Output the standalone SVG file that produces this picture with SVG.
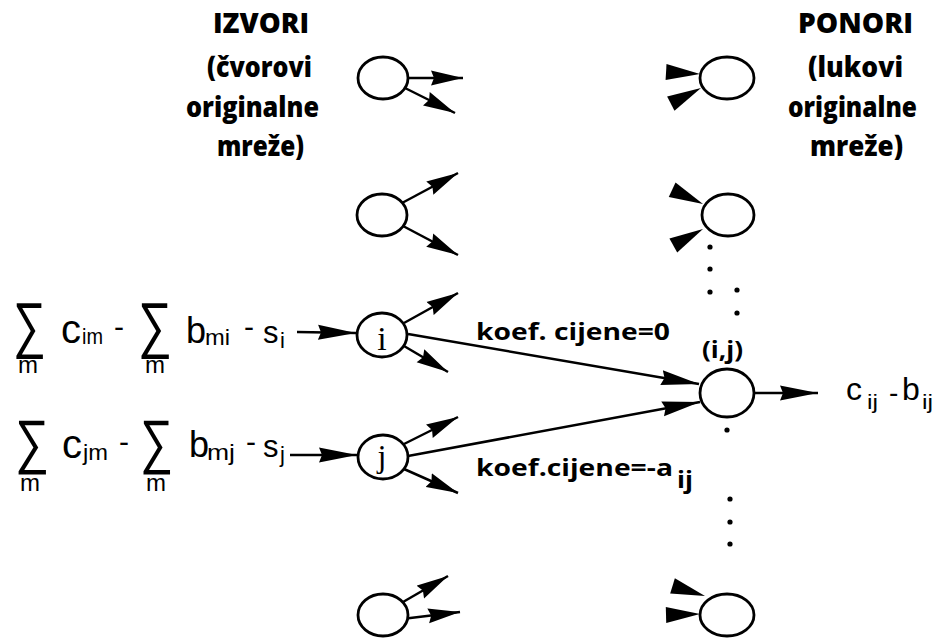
<svg xmlns="http://www.w3.org/2000/svg" xmlns:xlink="http://www.w3.org/1999/xlink" width="946" height="638" viewBox="0 0 946 638">
<style>
.nd{fill:#fff;stroke:#000;stroke-width:2.8}
.ln{stroke:#000;stroke-width:2.5;fill:none}
.hdr{font-family:"Open Sans","Noto Sans",sans-serif;font-weight:800;font-size:29px;fill:#000}
.lbl{font-family:"Open Sans","Noto Sans",sans-serif;font-weight:700;font-size:23px;fill:#000}
.f{font-family:"Liberation Sans",Arial,sans-serif;fill:#000}
.nl{font-family:"Liberation Serif","Times New Roman",serif;fill:#000;text-anchor:middle}
.dot{fill:#000}
</style>
<defs>
<marker id="a1" markerUnits="userSpaceOnUse" viewBox="0 0 32 16" refX="32" refY="8" markerWidth="32" markerHeight="16" orient="auto"><path d="M0,0.5 L32,8 L0,15.5 L3,8 Z" fill="#000"/></marker>
<marker id="a2" markerUnits="userSpaceOnUse" viewBox="0 0 38 16" refX="38" refY="8" markerWidth="38" markerHeight="16" orient="auto"><path d="M0,0.5 L38,8 L0,15.5 L3,8 Z" fill="#000"/></marker>
<path id="hd" d="M0,0 L-34,-8 L-34,8 Z" fill="#000"/>
</defs>

<g id="headers">
<text class="hdr" x="213" y="33" textLength="96" lengthAdjust="spacingAndGlyphs">IZVORI</text>
<text class="hdr" x="207" y="77" textLength="105" lengthAdjust="spacingAndGlyphs">(čvorovi</text>
<text class="hdr" x="186" y="117" textLength="133" lengthAdjust="spacingAndGlyphs">originalne</text>
<text class="hdr" x="217" y="156" textLength="87" lengthAdjust="spacingAndGlyphs">mreže)</text>
<text class="hdr" x="798" y="33" textLength="115" lengthAdjust="spacingAndGlyphs">PONORI</text>
<text class="hdr" x="808" y="77" textLength="95" lengthAdjust="spacingAndGlyphs">(lukovi</text>
<text class="hdr" x="788" y="117" textLength="129" lengthAdjust="spacingAndGlyphs">originalne</text>
<text class="hdr" x="810" y="156" textLength="93" lengthAdjust="spacingAndGlyphs">mreže)</text>
</g>

<g id="connectors">
<line class="ln" x1="408" y1="78" x2="463" y2="78" marker-end="url(#a1)"/>
<line class="ln" x1="405" y1="88" x2="455" y2="113" marker-end="url(#a1)"/>
<line class="ln" x1="402" y1="203" x2="458" y2="173" marker-end="url(#a1)"/>
<line class="ln" x1="403" y1="226" x2="458" y2="255" marker-end="url(#a1)"/>
<line class="ln" x1="404" y1="323" x2="458" y2="293" marker-end="url(#a1)"/>
<line class="ln" x1="404" y1="346" x2="448" y2="372" marker-end="url(#a1)"/>
<line class="ln" x1="404" y1="444" x2="458" y2="417" marker-end="url(#a1)"/>
<line class="ln" x1="404" y1="469" x2="458" y2="493" marker-end="url(#a1)"/>
<line class="ln" x1="403" y1="602" x2="448" y2="576" marker-end="url(#a1)"/>
<line class="ln" x1="402" y1="619" x2="460" y2="612" marker-end="url(#a1)"/>
<line class="ln" x1="408" y1="334" x2="699" y2="384" marker-end="url(#a2)"/>
<line class="ln" x1="408" y1="456" x2="700" y2="402" marker-end="url(#a2)"/>
<line class="ln" x1="754" y1="393" x2="818" y2="393" marker-end="url(#a2)"/>
<line class="ln" x1="297" y1="332" x2="356" y2="333" marker-end="url(#a2)"/>
<line class="ln" x1="290" y1="455" x2="357" y2="455" marker-end="url(#a2)"/>
<use xlink:href="#hd" href="#hd" transform="translate(700,74) rotate(3.3)"/>
<use xlink:href="#hd" href="#hd" transform="translate(701,88) rotate(-27.4)"/>
<use xlink:href="#hd" href="#hd" transform="translate(703,204) rotate(24.9)"/>
<use xlink:href="#hd" href="#hd" transform="translate(703,229) rotate(-29.2)"/>
<use xlink:href="#hd" href="#hd" transform="translate(705,596) rotate(17.2)"/>
<use xlink:href="#hd" href="#hd" transform="translate(700,614) rotate(-1.6)"/>
</g>

<g id="src1"><ellipse class="nd" cx="383" cy="78" rx="25" ry="21"/></g>
<g id="src2"><ellipse class="nd" cx="382" cy="215" rx="25" ry="21"/></g>
<g id="src_i"><ellipse class="nd" cx="382" cy="335" rx="25" ry="22"/><text class="nl" x="382" y="350" font-size="34">i</text></g>
<g id="src_j"><ellipse class="nd" cx="383" cy="457" rx="25" ry="22"/><text class="nl" x="382" y="467" font-size="32">j</text></g>
<g id="src5"><ellipse class="nd" cx="383" cy="615" rx="25" ry="21"/></g>
<g id="snk1"><ellipse class="nd" cx="727" cy="78" rx="27" ry="21"/></g>
<g id="snk2"><ellipse class="nd" cx="728" cy="215" rx="26" ry="21"/></g>
<g id="snk_ij"><ellipse class="nd" cx="727" cy="393" rx="27" ry="24"/><text class="lbl" x="702" y="358" font-size="21" font-weight="600" textLength="41" lengthAdjust="spacingAndGlyphs">(i,j)</text></g>
<g id="snk5"><ellipse class="nd" cx="727" cy="615" rx="27" ry="21"/></g>

<g id="dots">
<circle class="dot" cx="710" cy="247" r="2.6"/>
<circle class="dot" cx="710" cy="269" r="2.6"/>
<circle class="dot" cx="710" cy="292" r="2.6"/>
<circle class="dot" cx="737" cy="290" r="2.6"/>
<circle class="dot" cx="737" cy="313" r="2.6"/>
<circle class="dot" cx="727" cy="430" r="2.6"/>
<circle class="dot" cx="730" cy="499" r="2.6"/>
<circle class="dot" cx="730" cy="522" r="2.6"/>
<circle class="dot" cx="730" cy="544" r="2.6"/>
</g>

<g id="labels">
<text class="lbl" x="476" y="340" textLength="194" lengthAdjust="spacingAndGlyphs">koef. cijene=0</text>
<text class="lbl" x="476" y="476" textLength="197" lengthAdjust="spacingAndGlyphs">koef.cijene=-a</text>
<text class="lbl" x="677" y="488" font-size="19" textLength="16" lengthAdjust="spacingAndGlyphs">ij</text>
</g>

<g id="formula_out">
<text class="f" x="846" y="400" font-size="32">c</text>
<text class="f" x="867" y="409" font-size="20" textLength="11" lengthAdjust="spacingAndGlyphs">ij</text>
<text class="f" x="889" y="402" font-size="28">-</text>
<text class="f" x="902" y="400" font-size="32">b</text>
<text class="f" x="922" y="409" font-size="20" textLength="11" lengthAdjust="spacingAndGlyphs">ij</text>
</g>

<g id="formula_i">
<text class="f" x="13" y="346" font-size="62" textLength="33" lengthAdjust="spacingAndGlyphs">∑</text>
<text class="f" x="18" y="373" font-size="24">m</text>
<text class="f" x="61" y="343" font-size="40">c</text>
<text class="f" x="82" y="344" font-size="22" textLength="21" lengthAdjust="spacingAndGlyphs">im</text>
<text class="f" x="114" y="337" font-size="30">-</text>
<text class="f" x="138" y="346" font-size="62" textLength="34" lengthAdjust="spacingAndGlyphs">∑</text>
<text class="f" x="145" y="373" font-size="24">m</text>
<text class="f" x="186" y="343" font-size="36">b</text>
<text class="f" x="205" y="345" font-size="22" textLength="25" lengthAdjust="spacingAndGlyphs">mi</text>
<text class="f" x="244" y="337" font-size="30">-</text>
<text class="f" x="263" y="343" font-size="31">s</text>
<text class="f" x="280" y="348" font-size="22">i</text>
</g>

<g id="formula_j">
<text class="f" x="15" y="462" font-size="60" textLength="34" lengthAdjust="spacingAndGlyphs">∑</text>
<text class="f" x="20" y="491" font-size="24">m</text>
<text class="f" x="62" y="458" font-size="40">c</text>
<text class="f" x="83" y="460" font-size="22" textLength="25" lengthAdjust="spacingAndGlyphs">jm</text>
<text class="f" x="119" y="452" font-size="30">-</text>
<text class="f" x="140" y="462" font-size="60" textLength="33" lengthAdjust="spacingAndGlyphs">∑</text>
<text class="f" x="146" y="491" font-size="24">m</text>
<text class="f" x="189" y="457" font-size="36">b</text>
<text class="f" x="207" y="460" font-size="22" textLength="28" lengthAdjust="spacingAndGlyphs">mj</text>
<text class="f" x="246" y="452" font-size="30">-</text>
<text class="f" x="263" y="457" font-size="31">s</text>
<text class="f" x="280" y="462" font-size="22">j</text>
</g>
</svg>
